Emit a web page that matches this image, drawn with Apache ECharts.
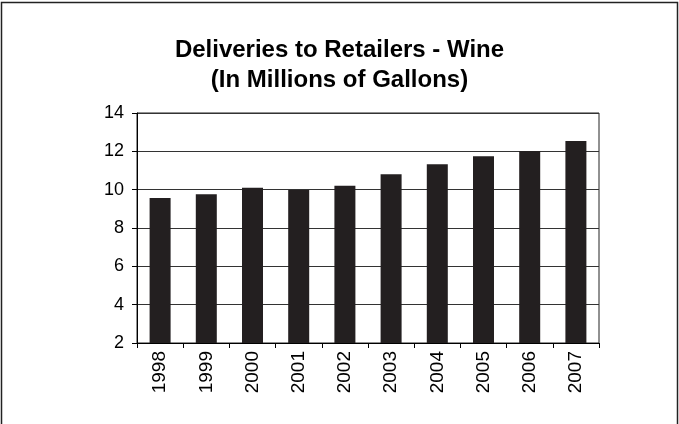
<!DOCTYPE html>
<html>
<head>
<meta charset="utf-8">
<script src="https://cdn.jsdelivr.net/npm/echarts@6/dist/echarts.min.js"></script>
<style>html,body{margin:0;padding:0;background:#fff}#c{width:679px;height:424px}</style>
</head>
<body>
<div id="c"></div>
<script>
var titleText = 'Deliveries to Retailers - Wine\n(In Millions of Gallons)';
var categories = ['1998','1999','2000','2001','2002','2003','2004','2005','2006','2007'];
var values = [9.56, 9.76, 10.1, 9.98, 10.21, 10.8, 11.32, 11.75, 12.02, 12.54];
var yMin = 2, yMax = 14, yStep = 2;

var chart = echarts.init(document.getElementById('c'));
chart.setOption({
  animation: false,
  backgroundColor: '#fff',
  title: {
    text: titleText,
    left: 'center',
    top: 30,
    textStyle: { fontFamily: 'Liberation Sans, Arial', fontWeight: 'bold', fontSize: 24, lineHeight: 30, color: '#000' }
  },
  graphic: [{
    type: 'rect', shape: { x: 1.5, y: 2.5, width: 676, height: 440 },
    style: { fill: 'none', stroke: '#222', lineWidth: 1.5 }, silent: true, z: -1
  }],
  grid: { left: 137, top: 113, right: 80, bottom: 81, show: true, borderColor: '#222', borderWidth: 1 },
  xAxis: {
    type: 'category',
    data: categories,
    axisLine: { lineStyle: { color: '#000', width: 1 } },
    axisTick: { show: true, alignWithLabel: false, length: 5, lineStyle: { color: '#000' } },
    axisLabel: { rotate: 90, margin: 8, fontFamily: 'Liberation Sans, Arial', fontSize: 19, color: '#000' }
  },
  yAxis: {
    type: 'value', min: yMin, max: yMax, interval: yStep,
    axisLine: { show: true, lineStyle: { color: '#000', width: 1 } },
    axisTick: { show: true, length: 5, lineStyle: { color: '#000' } },
    axisLabel: { margin: 13, fontFamily: 'Liberation Sans, Arial', fontSize: 18, color: '#000' },
    splitLine: { show: true, lineStyle: { color: '#333', width: 1 } }
  },
  series: [{
    type: 'bar',
    data: values,
    barWidth: 21,
    itemStyle: { color: '#231f20' }
  }]
});
</script>
</body>
</html>
